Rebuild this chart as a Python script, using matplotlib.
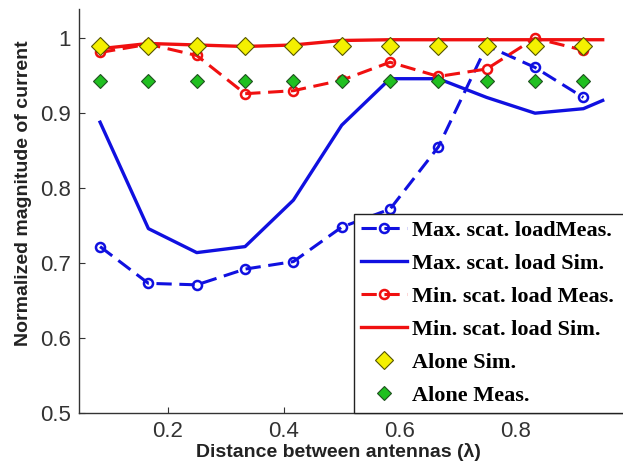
import numpy as np
import matplotlib
matplotlib.use('Agg')
import matplotlib.pyplot as plt

# distance between antennas in wavelengths
dist = [1/12, 2/12, 3/12, 4/12, 5/12, 6/12, 7/12, 8/12, 9/12, 10/12, 11/12]
dist_sim = dist + [0.95]

max_meas = [0.722, 0.673, 0.671, 0.692, 0.702, 0.748, 0.772, 0.855, 0.990, 0.961, 0.921]
max_sim = [0.888, 0.746, 0.714, 0.722, 0.784, 0.884, 0.946, 0.946, 0.921, 0.900, 0.906, 0.917]
min_meas = [0.981, 0.992, 0.977, 0.926, 0.930, 0.944, 0.968, 0.949, 0.959, 1.000, 0.984]
min_sim = [0.986, 0.993, 0.991, 0.989, 0.991, 0.997, 0.998, 0.998, 0.998, 0.998, 0.998, 0.998]
alone_sim = [0.990, 0.990, 0.990, 0.990, 0.990, 0.990, 0.990, 0.990, 0.990, 0.990, 0.990]
alone_meas = [0.943, 0.943, 0.943, 0.943, 0.943, 0.943, 0.943, 0.943, 0.943, 0.943, 0.943]

labels = ['Max. scat. loadMeas.', 'Max. scat. load Sim.', 'Min. scat. load Meas.',
          'Min. scat. load Sim.', 'Alone Sim.', 'Alone Meas.']

blue = '#1010e0'
red = '#f01010'

fig = plt.figure(figsize=(6.23, 4.70), dpi=100)
# axes runs off the right edge, like the cropped original
ax = fig.add_axes([79/623, 57/470, 544/623, 404/470])

h1, = ax.plot(dist, max_meas, '--o', color=blue, lw=2.2, ms=6.5, mfc='none', mew=1.8, dashes=(5, 2.5))
h2, = ax.plot(dist_sim, max_sim, '-', color=blue, lw=2.4)
h3, = ax.plot(dist, min_meas, '--o', color=red, lw=2.2, ms=6.5, mfc='none', mew=1.8, dashes=(5, 2.5))
h4, = ax.plot(dist_sim, min_sim, '-', color=red, lw=2.4)
h5, = ax.plot(dist, alone_sim, 'D', color='#f4f000', mec='#555500', ms=9, mew=0.8, ls='none')
h6, = ax.plot(dist, alone_meas, 'D', color='#20c020', mec='#205020', ms=7.5, mew=0.8, ls='none')

ax.set_xlim(0.047, 0.985)
ax.set_ylim(0.5, 1.039)
ax.set_xticks([0.2, 0.4, 0.6, 0.8])
ax.set_xticklabels(['0.2', '0.4', '0.6', '0.8'])
ax.set_yticks([0.5, 0.6, 0.7, 0.8, 0.9, 1.0])
ax.set_yticklabels(['0.5', '0.6', '0.7', '0.8', '0.9', '1'])
ax.tick_params(direction='in', length=4, width=0.8, labelsize=16, colors='#333333', pad=6)
for lab in ax.get_xticklabels() + ax.get_yticklabels():
    lab.set_family('Liberation Sans')
ax.spines['top'].set_visible(False)
ax.spines['right'].set_visible(False)
for s in ['left', 'bottom']:
    ax.spines[s].set_color('#333333')
    ax.spines[s].set_linewidth(1.0)

ax.set_xlabel('Distance between antennas (\u03bb)', fontsize=14, fontweight='bold',
              family='Liberation Sans', color='#222222')
ax.set_ylabel('Normalized magnitude of current', fontsize=14, fontweight='bold',
              family='Liberation Sans', color='#222222')
ax.xaxis.set_label_coords(0.476, -0.075)
ax.yaxis.set_label_coords(-0.086, 0.545)

leg = ax.legend([h1, h2, h3, h4, h5, h6], labels,
                loc='upper left', bbox_to_anchor=(354/623, 1 - 214/470, 0.5, 0.0),
                bbox_transform=fig.transFigure, mode='expand', borderaxespad=0,
                prop={'family': 'Liberation Serif', 'weight': 'bold', 'size': 16},
                fancybox=False, framealpha=1, edgecolor='#222222',
                handlelength=2.1, handletextpad=0.2, labelspacing=0.56, borderpad=0.3)
leg.get_frame().set_linewidth(1.0)

fig.savefig('out.png', dpi=100)
